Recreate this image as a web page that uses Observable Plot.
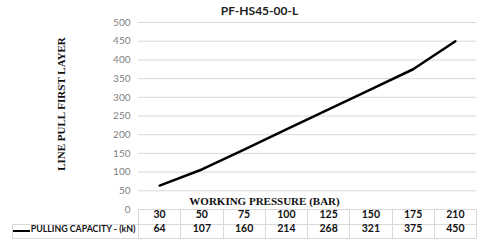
<!DOCTYPE html>
<html><head><meta charset="utf-8">
<script src="https://cdn.jsdelivr.net/npm/d3@7"></script>
<script src="https://cdn.jsdelivr.net/npm/@observablehq/plot@0.6"></script>
<style>body{margin:0;background:#fff} svg{display:block}</style>
</head><body><div id="chart"></div>
<script>
const title = "PF-HS45-00-L";
const yLabel = "LINE PULL FIRST LAYER";
const xLabel = "WORKING PRESSURE (BAR)";
const seriesName = "PULLING CAPACITY - (kN)";
const pressures = [30, 50, 75, 100, 125, 150, 175, 210];
const pulling = [64, 107, 160, 214, 268, 321, 375, 450];
const yTicks = [0, 50, 100, 150, 200, 250, 300, 350, 400, 450, 500];

const data = pressures.map((p, i) => ({i, p, v: pulling[i]}));
const gridColor = "#d9d9d9";
const sans = "Lato, 'Open Sans', sans-serif";
const serif = "'Liberation Serif', 'DejaVu Serif', serif";

function tableGrid(index, scales, values, dim) {
  const x = scales.x;
  const top = dim.height - dim.marginBottom;
  const r1 = top + 15, r2 = top + 29;
  const left = 12;
  const n = pressures.length;
  const s = v => Math.round(v) + 0.5;
  const segs = [
    [x(0), top, x(n), top],
    [left, r1, x(n), r1],
    [left, r2, x(n), r2],
    [left, r1, left, r2]
  ];
  for (let k = 0; k <= n; k++) segs.push([x(k), top, x(k), r2]);
  const g = d3.create("svg:g");
  g.append("g").attr("stroke", gridColor).attr("fill", "none")
    .selectAll("line").data(segs).join("line")
    .attr("x1", d => s(d[0])).attr("y1", d => s(d[1]))
    .attr("x2", d => s(d[2])).attr("y2", d => s(d[3]));
  g.append("line").attr("stroke", "black").attr("stroke-width", 2)
    .attr("x1", left + 1).attr("x2", left + 18)
    .attr("y1", r1 + 7).attr("y2", r1 + 7);
  return g.node();
}

const chart = Plot.plot({
  width: 482,
  height: 240,
  marginLeft: 138,
  marginRight: 6,
  marginTop: 22,
  marginBottom: 31,
  style: {fontFamily: sans, fontSize: "10px", color: "#7f7f7f", background: "white"},
  x: {type: "linear", domain: [0, pressures.length], axis: null},
  y: {domain: [0, 500], ticks: yTicks, tickSize: 0, tickPadding: 8, label: null},
  marks: [
    Plot.ruleY(yTicks, {stroke: gridColor, strokeOpacity: 1}),
    tableGrid,
    Plot.line(data, {x: d => d.i + 0.5, y: "v", stroke: "black", strokeWidth: 2.5}),
    Plot.text([title], {frameAnchor: "top", dx: -48, dy: -11, fontWeight: "bold", fontSize: 12, fill: "#222", lineAnchor: "middle"}),
    Plot.text([yLabel], {frameAnchor: "left", dx: -77, dy: -12, rotate: -90, textAnchor: "middle", fontFamily: serif, fontWeight: "bold", fontSize: 11, fill: "#111"}),
    Plot.text([xLabel], {frameAnchor: "bottom-left", dx: 126, dy: -5, textAnchor: "middle", fontFamily: serif, fontWeight: "bold", fontSize: 11, fill: "#111"}),
    Plot.text(data, {x: d => d.i + 0.5, frameAnchor: "bottom", dy: 8, text: d => String(d.p), fontWeight: "bold", fontSize: 10.5, fill: "#111"}),
    Plot.text(data, {x: d => d.i + 0.5, frameAnchor: "bottom", dy: 22, text: d => String(d.v), fontWeight: "bold", fontSize: 10.5, fill: "#111"}),
    Plot.text([seriesName], {frameAnchor: "bottom-left", dx: -3, dy: 22, textAnchor: "end", fontWeight: "bold", fontSize: 8.8, fill: "#111"})
  ]
});
document.getElementById("chart").append(chart);
</script>
</body></html>
